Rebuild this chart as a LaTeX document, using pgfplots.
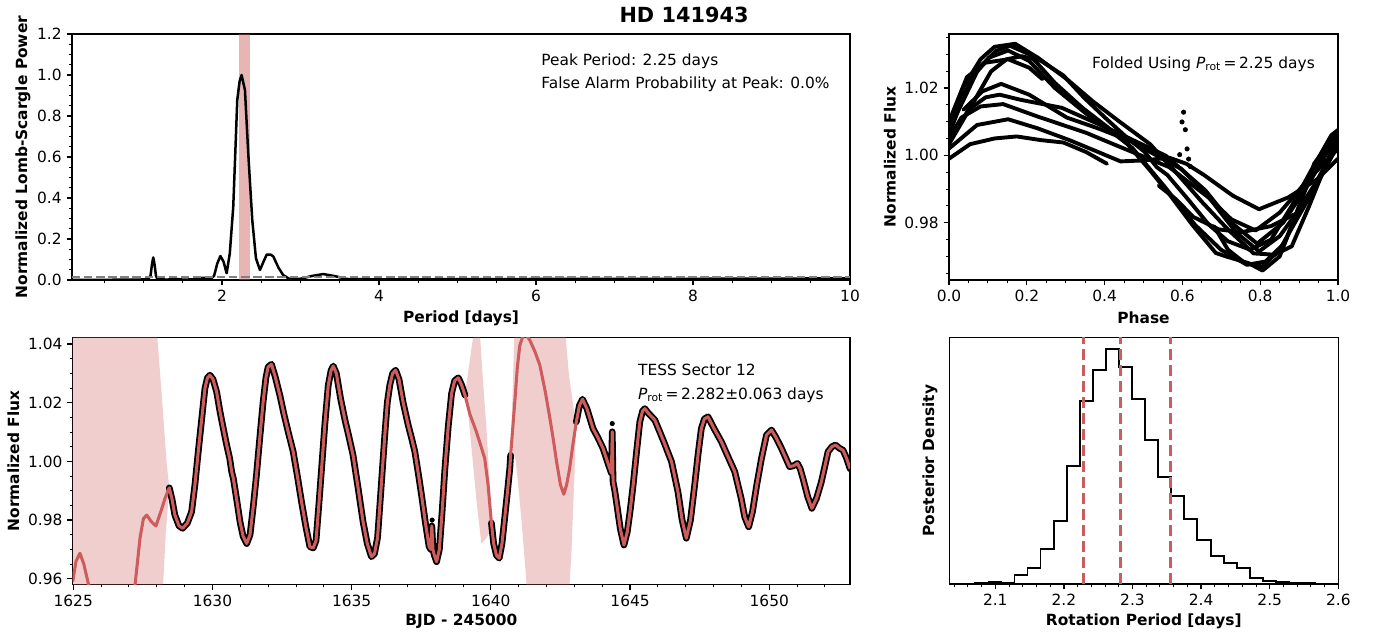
\documentclass[border=0pt]{standalone}
\usepackage{fontspec}
\setmainfont{DejaVu Sans}
\usepackage{pgfplots}
\usepackage{pgfplotstable}
\pgfplotsset{compat=1.18}
\definecolor{indianred}{RGB}{205,92,92}

% Lomb-Scargle periodogram
\pgfplotstableread{
p pow
0.09 0.000
0.50 0.001
0.90 0.002
1.05 0.003
1.09 0.020
1.11 0.080
1.125 0.110
1.14 0.080
1.16 0.020
1.18 0.004
1.30 0.002
1.42 0.005
1.50 0.002
1.65 0.003
1.72 0.010
1.78 0.010
1.85 0.004
1.90 0.020
1.94 0.080
1.98 0.117
2.02 0.090
2.06 0.033
2.10 0.130
2.144 0.358
2.17 0.620
2.195 0.878
2.225 0.970
2.25 1.000
2.293 0.927
2.335 0.618
2.386 0.293
2.433 0.106
2.484 0.049
2.53 0.090
2.57 0.124
2.62 0.124
2.654 0.115
2.72 0.060
2.78 0.024
2.87 0.003
3.00 0.006
3.15 0.020
3.29 0.029
3.45 0.018
3.59 0.005
4.00 0.003
5.00 0.004
6.00 0.005
7.00 0.006
8.00 0.006
9.00 0.007
10.00 0.008
}\periodogram

% GP model of the TESS light curve (data follow it where observed)
\pgfplotstableread{
t f
1624.98 0.9590
1625.10 0.9660
1625.24 0.9687
1625.38 0.9650
1625.54 0.9584
1625.70 0.9500
1626.50 0.9300
1627.00 0.9450
1627.22 0.9580
1627.40 0.9740
1627.52 0.9805
1627.64 0.9817
1627.80 0.9795
1627.97 0.9780
1628.15 0.9830
1628.30 0.9875
1628.45 0.9910
1628.55 0.9870
1628.65 0.9817
1628.80 0.9780
1628.93 0.9772
1629.10 0.9790
1629.25 0.9828
1629.37 0.9920
1629.49 1.0033
1629.62 1.0150
1629.73 1.0249
1629.82 1.0285
1629.91 1.0294
1630.02 1.0280
1630.15 1.0237
1630.27 1.0170
1630.39 1.0112
1630.51 1.0056
1630.62 1.0010
1630.69 0.9965
1630.75 0.9942
1630.87 0.9870
1630.99 0.9794
1631.10 0.9745
1631.23 0.9720
1631.35 0.9750
1631.47 0.9850
1631.58 0.9953
1631.70 1.0080
1631.82 1.0203
1631.92 1.0285
1632.00 1.0322
1632.12 1.0331
1632.25 1.0290
1632.42 1.0226
1632.57 1.0160
1632.72 1.0101
1632.90 1.0033
1633.05 0.9950
1633.20 0.9862
1633.35 0.9780
1633.50 0.9709
1633.62 0.9705
1633.72 0.9730
1633.82 0.9850
1633.92 0.9976
1634.04 1.0130
1634.16 1.0260
1634.26 1.0310
1634.34 1.0325
1634.45 1.0300
1634.60 1.0215
1634.76 1.0141
1634.90 1.0085
1635.05 1.0021
1635.23 0.9910
1635.41 0.9794
1635.56 0.9720
1635.71 0.9675
1635.82 0.9685
1635.93 0.9740
1636.05 0.9900
1636.19 1.0090
1636.28 1.0200
1636.37 1.0260
1636.47 1.0300
1636.58 1.0311
1636.70 1.0280
1636.85 1.0200
1637.03 1.0124
1637.15 1.0080
1637.27 1.0033
1637.40 0.9955
1637.51 0.9885
1637.65 0.9790
1637.78 0.9710
1637.84 0.9700
1637.88 0.9780
1637.92 0.9700
1637.97 0.9680
1638.05 0.9658
1638.15 0.9700
1638.25 0.9830
1638.35 0.9976
1638.47 1.0120
1638.59 1.0232
1638.70 1.0275
1638.83 1.0285
1638.95 1.0260
1639.07 1.0226
1639.25 1.0160
1639.48 1.0101
1639.65 1.0050
1639.78 1.0010
1639.90 0.9920
1640.02 0.9790
1640.10 0.9720
1640.20 0.9680
1640.30 0.9670
1640.40 0.9720
1640.50 0.9810
1640.60 0.9900
1640.68 0.9976
1640.71 1.0021
1640.86 1.0203
1640.95 1.0320
1641.04 1.0396
1641.20 1.0440
1641.40 1.0413
1641.58 1.0375
1641.76 1.0328
1641.95 1.0240
1642.12 1.0147
1642.25 1.0070
1642.36 0.9999
1642.50 0.9920
1642.62 0.9888
1642.72 0.9920
1642.83 0.9976
1642.95 1.0060
1643.07 1.0135
1643.18 1.0190
1643.29 1.0212
1643.45 1.0180
1643.67 1.0112
1643.85 1.0080
1644.03 1.0044
1644.15 1.0010
1644.27 0.9976
1644.33 0.9960
1644.36 1.0101
1644.39 0.9930
1644.45 0.9900
1644.51 0.9862
1644.65 0.9770
1644.78 0.9715
1644.90 0.9760
1645.00 0.9830
1645.11 0.9919
1645.23 1.0030
1645.35 1.0135
1645.45 1.0172
1645.53 1.0180
1645.65 1.0165
1645.89 1.0141
1646.20 1.0070
1646.49 0.9999
1646.72 0.9896
1646.87 0.9800
1647.02 0.9738
1647.17 0.9800
1647.32 0.9919
1647.45 1.0030
1647.56 1.0112
1647.67 1.0145
1647.80 1.0152
1648.00 1.0115
1648.28 1.0067
1648.50 1.0020
1648.76 0.9965
1648.99 0.9874
1649.12 0.9810
1649.26 0.9777
1649.40 0.9830
1649.55 0.9920
1649.72 1.0010
1649.90 1.0090
1650.08 1.0107
1650.25 1.0080
1650.44 1.0044
1650.60 1.0010
1650.73 0.9982
1650.87 0.9985
1651.01 0.9993
1651.11 0.9975
1651.21 0.9942
1651.38 0.9880
1651.53 0.9840
1651.70 0.9875
1651.87 0.9930
1652.00 0.9985
1652.11 1.0033
1652.25 1.0050
1652.38 1.0056
1652.52 1.0045
1652.65 1.0038
1652.78 1.0010
1652.90 0.9975
}\lightcurve

% posterior histogram: left bin edge, count
\pgfplotstableread{
x n
2.033 0
2.052 0
2.071 2
2.090 6
2.109 4
2.128 27
2.147 47
2.166 106
2.185 188
2.204 355
2.223 548
2.242 643
2.261 704
2.280 652
2.299 555
2.318 431
2.337 321
2.356 264
2.375 195
2.394 131
2.414 83
2.433 63
2.452 49
2.471 19
2.490 10
2.509 6
2.528 2
2.547 4
2.566 1
2.585 0
2.604 0
}\posterior

\pgfplotsset{
  mpl/.style={
    scale only axis,
    anchor=north west,
    axis line style={line width=0.9pt},
    tick align=outside,
    tick pos=left,
    major tick length=3.9pt,
    minor tick length=2.2pt,
    major tick style={black, line width=0.9pt},
    minor tick style={black, line width=0.65pt},
    tick label style={font=\fontsize{11.1}{13}\selectfont},
    label style={font=\fontsize{11.1}{13}\selectfont\bfseries},
    /pgf/number format/assume math mode=true,
    /pgf/number format/1000 sep={},
  },
}
\tikzset{
  txt/.style={font=\fontsize{11.1}{13}\selectfont, anchor=base west, inner sep=0pt},
  fold/.style={black, line width=2.8pt, line join=round, line cap=round},
}

\begin{document}
\begin{tikzpicture}
\path (0pt,0pt) rectangle (992.16pt,-458.64pt);
\node[font=\fontsize{15}{18}\selectfont\bfseries] at (492.5pt,-10.5pt) {HD 141943};

% ---------- periodogram
\begin{axis}[mpl, at={(51.84pt,-24.48pt)}, width=560.16pt, height=177.12pt,
  xmin=0.09, xmax=10, ymin=0, ymax=1.2,
  xtick={2,4,6,8,10}, minor xtick={0.5,1,...,9.5},
  ytick={0,0.2,0.4,0.6,0.8,1.0,1.2}, minor ytick={0.05,0.1,...,1.16},
  yticklabel style={/pgf/number format/.cd, fixed, fixed zerofill, precision=1},
  xlabel={Period [days]}, ylabel={Normalized Lomb-Scargle Power},
  xlabel style={at={(axis description cs:0.5,-0.1545)}, anchor=center},
  ylabel style={at={(axis description cs:-0.063,0.5)}, anchor=center},
]
\addplot[fill=indianred, fill opacity=0.45, draw=none] coordinates {(2.22,0) (2.355,0) (2.355,1.2) (2.22,1.2)} -- cycle;
\addplot[black, line width=1.8pt, line join=round] table[x=p, y=pow] {\periodogram};
\addplot[gray, line width=1.6pt, dash pattern=on 6pt off 2.7pt] coordinates {(0.09,0.015) (10,0.015)};
\node[txt] at (axis description cs:0.603,0.874) {Peak Period: 2.25 days};
\node[txt] at (axis description cs:0.603,0.779) {False Alarm Probability at Peak: 0.0\%};
\end{axis}

% ---------- folded light curve
\begin{axis}[mpl, at={(683.28pt,-24.48pt)}, width=280.08pt, height=177.12pt,
  xmin=0, xmax=1, ymin=0.963, ymax=1.036,
  xtick={0,0.2,0.4,0.6,0.8,1.0}, minor xtick={0.05,0.1,...,0.96},
  ytick={0.98,1.00,1.02}, minor ytick={0.965,0.97,...,1.036},
  xticklabel style={/pgf/number format/.cd, fixed, fixed zerofill, precision=1},
  yticklabel style={/pgf/number format/.cd, fixed, fixed zerofill, precision=2},
  xlabel={Phase}, ylabel={Normalized Flux},
  xlabel style={at={(axis description cs:0.5,-0.1545)}, anchor=center},
  ylabel style={at={(axis description cs:-0.152,0.5)}, anchor=center},
]
\addplot[fold] coordinates {(0.539,0.9910) (0.583,0.9870) (0.628,0.9817) (0.694,0.9780) (0.752,0.9772) (0.828,0.9790) (0.894,0.9828) (0.948,0.9920) (1.0,1.0030)};
\addplot[fold] coordinates {(0,1.0033) (0.059,1.0150) (0.108,1.0249) (0.148,1.0285) (0.188,1.0294) (0.237,1.0280) (0.294,1.0237) (0.348,1.0170) (0.401,1.0112) (0.454,1.0056) (0.503,1.0010) (0.534,0.9965) (0.561,0.9942) (0.614,0.9870) (0.668,0.9794) (0.717,0.9745) (0.774,0.9720) (0.828,0.9750) (0.881,0.9850) (0.930,0.9953) (0.983,1.0060) (1.0,1.0075)};
\addplot[fold] coordinates {(0,1.0090) (0.037,1.0203) (0.081,1.0285) (0.117,1.0322) (0.170,1.0331) (0.228,1.0290) (0.303,1.0226) (0.370,1.0160) (0.437,1.0101) (0.517,1.0033) (0.583,0.9950) (0.650,0.9862) (0.717,0.9780) (0.783,0.9709) (0.837,0.9705) (0.881,0.9730) (0.926,0.9850) (0.970,0.9976) (1.0,1.0060)};
\addplot[fold] coordinates {(0,1.0063) (0.023,1.0130) (0.077,1.0260) (0.121,1.0310) (0.157,1.0325) (0.206,1.0300) (0.272,1.0215) (0.343,1.0141) (0.406,1.0085) (0.472,1.0021) (0.552,0.9910) (0.632,0.9794) (0.699,0.9720) (0.766,0.9675) (0.814,0.9685) (0.863,0.9740) (0.917,0.9900) (0.979,1.0050) (1.0,1.0075)};
\addplot[fold] coordinates {(0,1.0080) (0.019,1.0130) (0.059,1.0230) (0.103,1.0290) (0.152,1.0311) (0.206,1.0280) (0.272,1.0200) (0.352,1.0124) (0.406,1.0080) (0.459,1.0033) (0.517,0.9955) (0.566,0.9885) (0.628,0.9790) (0.686,0.9710) (0.712,0.9700) (0.770,0.9680) (0.806,0.9658) (0.850,0.9700) (0.894,0.9830) (0.939,0.9976) (1.0,1.0070)};
\addplot[fold] coordinates {(0,1.0100) (0.046,1.0232) (0.094,1.0275) (0.152,1.0285) (0.206,1.0260) (0.240,1.0226)};
\addplot[fold] coordinates {(0.681,0.9790) (0.717,0.9720) (0.761,0.9680) (0.806,0.9670) (0.850,0.9720) (0.894,0.9810) (0.939,0.9900) (0.974,0.9976) (0.988,1.0021)};
\addplot[fold] coordinates {(0.037,1.0135) (0.086,1.0190) (0.134,1.0212) (0.206,1.0180) (0.303,1.0112) (0.383,1.0080) (0.463,1.0044) (0.517,1.0010) (0.570,0.9976) (0.597,0.9960) (0.623,0.9930) (0.650,0.9900) (0.677,0.9862) (0.739,0.9770) (0.797,0.9715) (0.850,0.9760) (0.894,0.9830) (0.943,0.9919) (1.0,1.0040)};
\addplot[fold] coordinates {(0,1.0040) (0.050,1.0135) (0.094,1.0172) (0.130,1.0180) (0.183,1.0165) (0.290,1.0141) (0.428,1.0070) (0.557,0.9999) (0.659,0.9896) (0.726,0.9800) (0.792,0.9738) (0.859,0.9800) (0.926,0.9919) (0.983,1.0030) (1.0,1.0050)};
\addplot[fold] coordinates {(0,1.0050) (0.032,1.0112) (0.081,1.0145) (0.139,1.0152) (0.228,1.0115) (0.352,1.0067) (0.450,1.0020) (0.566,0.9965) (0.668,0.9874) (0.726,0.9810) (0.788,0.9777) (0.850,0.9830) (0.917,0.9920) (0.992,1.0010) (1.0,1.0020)};
\addplot[fold] coordinates {(0,1.0020) (0.072,1.0090) (0.152,1.0107) (0.228,1.0080) (0.312,1.0044) (0.383,1.0010) (0.441,0.9982) (0.503,0.9985) (0.566,0.9993) (0.610,0.9975) (0.655,0.9942) (0.730,0.9880) (0.797,0.9840) (0.872,0.9875) (0.948,0.9930) (1.0,0.9990)};
\addplot[fold] coordinates {(0,0.9990) (0.054,1.0033) (0.117,1.0050) (0.174,1.0056) (0.237,1.0045) (0.294,1.0038) (0.352,1.0010) (0.406,0.9975)};
\addplot[only marks, mark=*, mark size=1.6pt, black] coordinates {(0.603,1.0128) (0.599,1.0099) (0.6075,1.0076) (0.612,1.0019) (0.593,1.0002) (0.616,0.9989) (0.620,0.9967)};
\node[txt] at (axis description cs:0.367,0.8606) {Folded Using {\itshape P}\textsubscript{rot}\,=\,2.25 days};
\end{axis}

% ---------- TESS light curve with GP model
\begin{axis}[mpl, at={(52.34pt,-242.86pt)}, width=559.66pt, height=177.84pt,
  xmin=1624.98, xmax=1652.9, ymin=0.9581, ymax=1.0423,
  xtick={1625,1630,1635,1640,1645,1650}, minor xtick={1626,1627,...,1652},
  ytick={0.96,0.98,1.00,1.02,1.04}, minor ytick={0.96,0.965,...,1.041},
  yticklabel style={/pgf/number format/.cd, fixed, fixed zerofill, precision=2},
  xlabel={BJD - 245000}, ylabel={Normalized Flux},
  xlabel style={at={(axis description cs:0.5,-0.151)}, anchor=center},
  ylabel style={at={(axis description cs:-0.0764,0.5)}, anchor=center},
]
\addplot[fill=indianred, fill opacity=0.3, draw=none] coordinates {(1624.9,1.05) (1627.98,1.05) (1628.02,1.0423) (1628.2,1.02) (1628.35,1.0) (1628.45,0.991) (1628.32,0.975) (1628.23,0.958) (1628.2,0.95) (1624.9,0.95)} -- cycle;
\addplot[fill=indianred, fill opacity=0.3, draw=none] coordinates {(1639.07,1.0226) (1639.25,1.035) (1639.4,1.045) (1639.6,1.045) (1639.7,1.03) (1639.85,1.01) (1639.97,0.99) (1640.02,0.977) (1639.85,0.974) (1639.66,0.972) (1639.5,0.985) (1639.35,1.0) (1639.2,1.015)} -- cycle;
\addplot[fill=indianred, fill opacity=0.3, draw=none] coordinates {(1640.71,1.002) (1640.8,1.03) (1640.87,1.05) (1642.62,1.05) (1642.8,1.03) (1643.0,1.016) (1643.07,1.0135) (1643.0,0.995) (1642.9,0.97) (1642.78,0.95) (1641.35,0.95) (1641.1,0.98) (1640.9,1.0) (1640.75,1.005)} -- cycle;
\addplot[black, line width=4.8pt, line join=round, line cap=round, restrict x to domain=1628.44:1639.08] table[x=t, y=f] {\lightcurve};
\addplot[black, line width=4.8pt, line join=round, line cap=round, restrict x to domain=1640.01:1640.72] table[x=t, y=f] {\lightcurve};
\addplot[black, line width=4.8pt, line join=round, line cap=round, restrict x to domain=1643.06:1653] table[x=t, y=f] {\lightcurve};
\addplot[only marks, mark=*, mark size=1.6pt, black] coordinates {(1637.89,0.9800) (1644.36,1.0129)};
\addplot[indianred, line width=2.2pt, line join=round] table[x=t, y=f] {\lightcurve};
\node[txt] at (axis description cs:0.727,0.8445) {TESS Sector 12};
\node[txt] at (axis description cs:0.727,0.7498) {{\itshape P}\textsubscript{rot}\,=\,2.282±0.063 days};
\end{axis}

% ---------- posterior of rotation period
\begin{axis}[mpl, at={(683.5pt,-242.86pt)}, width=280.08pt, height=177.6pt,
  xmin=2.033, xmax=2.6, ymin=0, ymax=740,
  xtick={2.1,2.2,2.3,2.4,2.5,2.6}, minor xtick={2.04,2.06,...,2.59},
  ytick=\empty,
  xticklabel style={/pgf/number format/.cd, fixed, fixed zerofill, precision=1},
  xlabel={Rotation Period [days]}, ylabel={Posterior Density},
  xlabel style={at={(axis description cs:0.5,-0.153)}, anchor=center},
  ylabel style={at={(axis description cs:-0.0496,0.5)}, anchor=center},
]
\addplot[const plot mark left, black, line width=1.3pt] table[x=x, y=n] {\posterior};
\addplot[indianred, line width=2.2pt, dash pattern=on 8pt off 3.5pt] coordinates {(2.228,0) (2.228,740)};
\addplot[indianred, line width=2.2pt, dash pattern=on 8pt off 3.5pt] coordinates {(2.282,0) (2.282,740)};
\addplot[indianred, line width=2.2pt, dash pattern=on 8pt off 3.5pt] coordinates {(2.355,0) (2.355,740)};
\end{axis}
\end{tikzpicture}
\end{document}
